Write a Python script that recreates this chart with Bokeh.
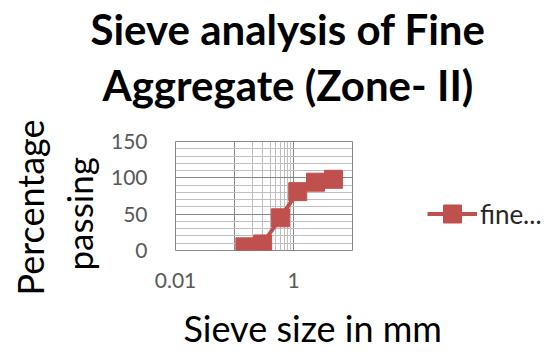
from bokeh.plotting import figure
from bokeh.models import FixedTicker, Legend, LegendItem, ColumnDataSource, Title
from bokeh.embed import file_html
from bokeh.resources import INLINE

# ---- data ----
sieve_mm = [0.15, 0.3, 0.6, 1.18, 2.36, 4.75]
passing = [5, 9, 45, 81, 94, 98]
series_name = "fine..."

x_tick_values = [0.01, 1]
x_tick_labels = ["0.01", "1"]
x_grid_major = [0.01, 0.1, 1, 10]
x_grid_minor = [0.2, 0.3, 0.4, 0.5, 0.6, 0.7, 0.8, 0.9]
y_ticks = [0, 50, 100, 150]
y_minor = [10, 20, 30, 40, 60, 70, 80, 90, 110, 120, 130, 140]

title_lines = ["Sieve analysis of Fine", "Aggregate (Zone- II)"]
x_title = "Sieve size in mm"
y_title_lines = ["Percentage", "passing"]

RED = "#C0504D"
FONT = "Lato"

p = figure(frame_width=177, frame_height=109, x_axis_type="log", x_range=(0.01, 10), y_range=(0, 150),
           output_backend="svg", toolbar_location=None,
           min_border_left=175, min_border_right=192, min_border_top=141, min_border_bottom=94)
p.outline_line_color = "#868686"
p.outline_line_width = 1

for ax in (p.xaxis[0], p.yaxis[0]):
    ax.axis_line_color = None
    ax.major_tick_line_color = None
    ax.minor_tick_line_color = None
    ax.major_label_text_font = FONT
    ax.major_label_text_font_size = "21px"
    ax.major_label_text_color = "#595959"

p.xaxis.ticker = FixedTicker(ticks=x_tick_values)
p.xaxis.major_label_overrides = {v: s for v, s in zip(x_tick_values, x_tick_labels)}
p.xaxis.major_label_standoff = 16
p.yaxis.ticker = FixedTicker(ticks=y_ticks)
p.yaxis.major_label_standoff = 22

p.xgrid.ticker = FixedTicker(ticks=x_grid_major, minor_ticks=x_grid_minor)
p.ygrid.ticker = FixedTicker(ticks=y_ticks, minor_ticks=y_minor)
for g in (p.xgrid[0], p.ygrid[0]):
    g.grid_line_color = "#868686"
    g.grid_line_width = 1
    g.minor_grid_line_color = "#BFBFBF"
    g.minor_grid_line_width = 1

src = ColumnDataSource(dict(x=sieve_mm, y=passing))
ln = p.line("x", "y", source=src, line_color=RED, line_width=4)
sc = p.scatter("x", "y", source=src, marker="square", size=18, fill_color=RED, line_color=RED)

legend = Legend(items=[LegendItem(label=series_name, renderers=[ln, sc])],
                location=(75, 14), glyph_width=50, glyph_height=45,
                label_text_font=FONT, label_text_font_size="26px", label_text_color="#262626",
                label_standoff=3, border_line_color=None, background_fill_alpha=0,
                padding=0, margin=0)
p.add_layout(legend, "right")

# main title: line 2 first (closest to the plot), then line 1
p.add_layout(Title(text=title_lines[1], align="left", offset=-73, standoff=64,
                   text_font=FONT, text_font_style="bold", text_font_size="42px",
                   text_color="black"), "above")
p.add_layout(Title(text=title_lines[0], align="left", offset=-85, standoff=-56,
                   text_font=FONT, text_font_style="bold", text_font_size="42px",
                   text_color="black"), "above")

# x-axis title
p.add_layout(Title(text=x_title, align="left", offset=8, standoff=26,
                   text_font=FONT, text_font_style="normal", text_font_size="36px",
                   text_color="black"), "below")

# y-axis title (two lines): inner line first
p.add_layout(Title(text=y_title_lines[1], align="left", offset=-20, standoff=16,
                   text_font=FONT, text_font_style="normal", text_font_size="35px",
                   text_color="black"), "left")
p.add_layout(Title(text=y_title_lines[0], align="left", offset=-45, standoff=-8,
                   text_font=FONT, text_font_style="normal", text_font_size="36px",
                   text_color="black"), "left")

open("out.html", "w").write(file_html(p, INLINE))
